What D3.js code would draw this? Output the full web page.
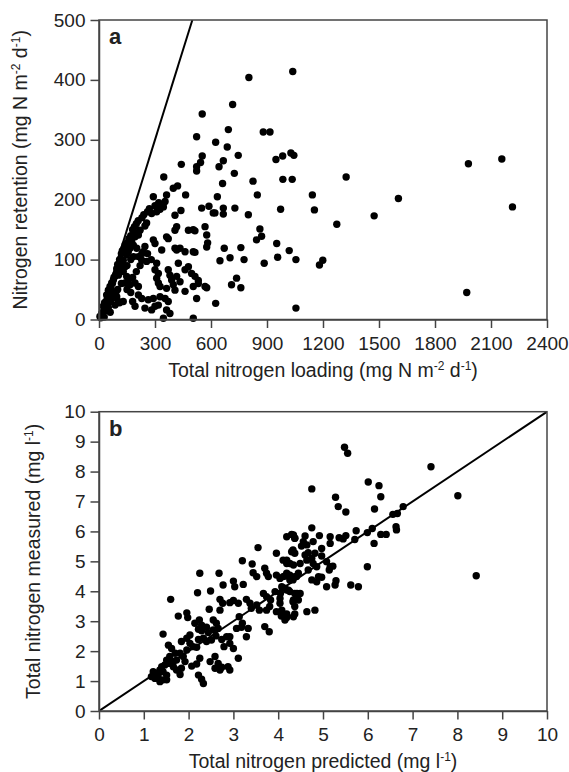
<!DOCTYPE html>
<html>
<head>
<meta charset="utf-8">
<script src="https://cdn.jsdelivr.net/npm/d3@7"></script>
<style>
  body { margin: 0; background: #fff; }
  svg text { font-family: "Liberation Sans", Arial, sans-serif; fill: #222; }
</style>
</head>
<body>
<div id="chart"></div>
<script>
var canvasWidth = 569;
var canvasHeight = 772;

/*Tick labels*/
var loadingTicks = [0, 300, 600, 900, 1200, 1500, 1800, 2100, 2400];
var retentionTicks = [0, 100, 200, 300, 400, 500];
var tnTicks = [0, 1, 2, 3, 4, 5, 6, 7, 8, 9, 10];

/*Panel a: [total N loading, N retention]*/
var retention = [
  [1038,414],[803,404],[716,359],[553,343],[693,317],[880,313],[916,313],[523,305],[625,296],[687,288],
  [553,273],[544,262],[523,255],[523,248],[746,274],[666,265],[643,255],[725,244],[948,267],[984,273],
  [1028,278],[1044,274],[662,227],[825,231],[634,205],[848,208],[985,234],[1035,234],[550,186],[589,189],
  [612,178],[621,178],[666,186],[666,176],[728,186],[800,175],[973,184],[514,148],[568,155],[577,141],
  [582,128],[577,121],[862,151],[844,133],[871,139],[671,119],[648,98],[702,103],[760,120],[777,100],
  [952,127],[957,104],[885,94],[1019,115],[1055,100],[514,112],[514,72],[532,65],[532,60],[577,53],
  [523,35],[625,27],[710,58],[737,69],[760,53],[1055,19],[1143,208],[1324,238],[1154,183],[1604,202],
  [2215,188],[1979,260],[2158,268],[1474,173],[1274,159],[1181,91],[1199,99],[1970,45],[441,259],[347,238],
  [421,223],[398,219],[362,208],[464,208],[291,205],[354,197],[345,188],[327,184],[309,180],[282,177],
  [407,174],[439,182],[255,161],[246,156],[220,149],[202,144],[193,138],[211,141],[416,155],[407,149],
  [479,149],[505,150],[362,138],[371,135],[175,130],[184,124],[166,119],[157,113],[148,108],[202,119],
  [246,122],[237,113],[291,133],[300,127],[407,119],[416,116],[434,119],[461,113],[505,113],[336,116],
  [211,105],[229,99],[255,97],[130,99],[121,91],[139,88],[112,83],[130,80],[104,74],[86,72],
  [77,66],[68,61],[59,55],[50,49],[41,41],[148,72],[157,66],[139,61],[166,58],[193,61],
  [211,55],[309,94],[300,83],[318,77],[309,69],[318,61],[327,55],[371,83],[380,74],[389,66],
  [398,58],[362,52],[425,94],[461,83],[416,72],[434,63],[479,88],[496,77],[505,55],[407,49],
  [461,47],[211,41],[229,35],[264,33],[291,35],[327,38],[95,38],[104,30],[86,24],[193,22],
  [246,19],[282,16],[300,22],[318,24],[354,35],[371,30],[362,16],[380,10],[23,22],[32,16],
  [14,10],[5,5],[28,4],[10,3],[345,2],[505,2],[568,55],
  [30,28],[38,30],[45,35],[55,42],[65,50],[72,60],[80,70],[90,75],[95,85],[100,92],
  [110,100],[115,95],[120,110],[125,115],[135,120],[140,125],[150,128],[160,135],[170,140],[180,150],
  [190,155],[200,160],[210,165],[230,170],[240,175],[260,180],[270,185],[300,190],[320,195],[120,60],
  [100,50],[90,45],[80,40],[70,35],[150,50],[170,45],[180,70],[200,80],[220,90],[150,90],
  [170,100],[185,105],[230,110],[260,110],[280,100],[60,30],[50,20],[40,15],[20,12],[130,30],
  [110,28],[180,30],[60,12]
];

/*Panel b: [TN predicted, TN measured]*/
var tnFit = [
  [1.60,3.73],[1.43,2.57],[2.25,4.60],[2.68,4.60],[2.49,4.01],[2.20,3.95],[1.77,3.17],[1.98,3.12],[1.96,3.28],[2.77,4.21],
  [2.46,3.40],[3.00,4.34],[3.03,4.15],[3.22,4.23],[3.20,5.02],[3.42,4.91],[3.55,5.46],[3.96,5.27],[4.19,5.82],[4.30,5.90],
  [4.37,5.77],[4.33,5.38],[4.11,5.04],[4.19,4.93],[3.44,4.62],[3.52,4.49],[3.70,4.77],[3.74,4.60],[3.78,4.49],[3.96,4.54],
  [4.04,4.43],[4.15,4.51],[4.26,4.54],[4.33,4.38],[4.41,4.49],[2.70,3.73],[2.76,3.60],[2.70,3.37],[2.92,3.62],[3.00,3.69],
  [3.11,3.60],[3.29,3.73],[3.37,3.60],[3.40,3.43],[3.52,3.54],[3.58,3.37],[3.67,3.93],[3.74,3.82],[3.83,3.71],[3.93,3.99],
  [4.05,3.93],[4.19,4.04],[3.74,3.37],[3.81,3.49],[3.96,3.32],[4.07,3.17],[4.19,3.12],[4.37,3.24],[4.42,3.93],[4.45,3.71],
  [4.33,3.65],[3.13,3.15],[3.20,2.93],[3.07,2.76],[3.18,2.80],[3.29,2.48],[3.70,2.82],[3.80,2.65],[3.33,2.76],[3.11,1.76],
  [2.92,2.26],[3.00,2.09],[2.79,2.15],[2.85,2.48],[2.92,2.48],[2.74,2.39],[2.55,3.04],[2.62,2.93],[2.66,2.76],[2.55,2.71],
  [2.40,2.80],[2.29,2.68],[2.22,2.73],[2.14,2.93],[2.24,3.04],[2.29,2.87],[2.33,2.43],[2.40,2.32],[2.51,2.37],[2.44,2.62],
  [2.61,2.51],[2.03,2.26],[2.10,2.15],[1.96,2.04],[2.18,2.13],[1.81,1.93],[1.88,1.82],[1.73,1.70],[1.92,1.65],[1.84,1.43],
  [2.07,1.50],[2.18,1.57],[2.25,1.76],[2.48,1.65],[2.59,1.82],[2.66,1.59],[2.74,1.46],[2.88,1.48],[2.92,1.37],[2.70,1.37],
  [2.59,1.43],[2.22,1.20],[2.29,1.06],[2.33,0.92],[1.81,1.22],[1.55,2.20],[1.62,2.09],[1.70,1.93],[1.58,1.82],[1.51,1.70],
  [1.40,1.48],[1.47,1.54],[1.58,1.59],[1.66,1.65],[1.21,1.31],[1.29,1.26],[1.36,1.37],[1.43,1.31],[1.51,1.20],[1.17,1.15],
  [1.25,1.09],[1.32,1.17],[1.43,1.04],[1.36,0.98],[1.51,1.04],[1.66,1.48],[1.73,1.37],[2.22,2.39],[2.03,2.54],[1.96,2.43],
  [1.84,2.32],
  [5.48,8.81],[5.55,8.61],[7.41,8.16],[4.75,7.42],[6.01,7.65],[6.25,7.53],[6.29,7.16],[8.01,7.19],[5.28,7.14],[5.34,6.83],
  [5.51,6.65],[6.15,6.75],[6.79,6.83],[6.66,6.60],[6.56,6.57],[6.63,6.16],[6.64,6.05],[6.10,6.10],[5.99,5.96],[6.29,5.90],
  [6.41,5.90],[5.74,6.02],[5.71,5.73],[6.14,5.60],[5.99,4.82],[8.42,4.52],[5.62,4.21],[5.79,4.15],[4.75,6.12],[4.34,5.88],
  [4.60,5.85],[4.37,5.77],[4.92,5.86],[5.16,5.82],[5.36,5.79],[5.51,5.86],[5.45,5.75],[5.16,5.60],[4.56,5.66],[4.78,5.66],
  [4.52,5.51],[4.64,5.55],[4.97,5.43],[4.97,5.18],[4.82,5.27],[4.67,5.29],[4.60,5.21],[4.30,5.32],[4.37,5.27],[4.19,5.04],
  [4.26,4.93],[4.34,4.88],[4.49,4.93],[4.64,5.04],[4.75,5.10],[4.78,4.93],[4.86,4.82],[4.67,4.71],[5.08,4.99],[5.16,4.82],
  [5.22,4.84],[5.14,4.71],[4.11,4.49],[4.19,4.60],[4.26,4.38],[4.37,4.49],[4.45,4.60],[4.75,4.38],[4.86,4.32],[4.90,4.49],
  [4.97,4.47],[5.08,4.15],[5.27,4.21],[5.29,4.35],[4.08,4.15],[4.15,4.10],[4.23,4.04],[4.26,3.99],[4.37,3.93],[4.49,3.93],
  [4.04,3.76],[4.04,3.60],[4.08,3.37],[4.19,3.24],[4.15,3.04],[4.34,3.15],[4.37,3.49],[4.34,3.71],[4.64,3.32],[4.82,3.37]
];

var svg = d3.select("#chart").append("svg")
    .attr("width", canvasWidth)
    .attr("height", canvasHeight);

/*Draws one framed scatter panel*/
function drawPanel(opt) {
    var x = d3.scaleLinear().domain(opt.xDomain).range([opt.left, opt.right]);
    var y = d3.scaleLinear().domain(opt.yDomain).range([opt.bottom, opt.top]);
    var g = svg.append("g");

    /*1:1 line, clipped to the plot*/
    var clipId = "clip-" + opt.name;
    g.append("clipPath").attr("id", clipId)
        .append("rect")
        .attr("x", opt.left).attr("y", opt.top)
        .attr("width", opt.right - opt.left).attr("height", opt.bottom - opt.top);

    g.append("line")
        .attr("clip-path", "url(#" + clipId + ")")
        .attr("x1", x(0)).attr("y1", y(0))
        .attr("x2", x(opt.lineEnd)).attr("y2", y(opt.lineEnd))
        .attr("stroke", "#000")
        .attr("stroke-width", 2);

    g.selectAll("circle")
        .data(opt.data)
        .join("circle")
        .attr("cx", function(d) { return x(d[0]); })
        .attr("cy", function(d) { return y(d[1]); })
        .attr("r", 3.7)
        .attr("fill", "#000");

    /*Frame*/
    g.append("rect")
        .attr("x", opt.left).attr("y", opt.top)
        .attr("width", opt.right - opt.left).attr("height", opt.bottom - opt.top)
        .attr("fill", "none")
        .attr("stroke", "#444")
        .attr("stroke-width", 1.5);

    var fmt = d3.format("d");
    var xAxis = g.append("g")
        .attr("transform", "translate(0," + opt.bottom + ")")
        .call(d3.axisBottom(x).tickValues(opt.xTicks).tickFormat(fmt).tickSize(8.5).tickPadding(8.5).tickSizeOuter(0));
    var yAxis = g.append("g")
        .attr("transform", "translate(" + opt.left + ",0)")
        .call(d3.axisLeft(y).tickValues(opt.yTicks).tickFormat(fmt).tickSize(8.5).tickPadding(5).tickSizeOuter(0));

    [xAxis, yAxis].forEach(function(a) {
        a.select(".domain").attr("stroke", "#444").attr("stroke-width", 1.5);
        a.selectAll(".tick line").attr("stroke", "#444").attr("stroke-width", 1.5);
        a.selectAll(".tick text")
            .attr("fill", "#222")
            .style("font-size", "19px")
            .style("font-family", "'Liberation Sans', Arial, sans-serif");
    });

    /*Panel letter*/
    g.append("text")
        .attr("x", opt.left + 10)
        .attr("y", opt.top + 24)
        .style("font-size", "22px")
        .style("font-weight", "bold")
        .text(opt.name);

    /*Axis titles with superscripts*/
    function addTitle(parent, parts) {
        parts.forEach(function(p) {
            var t = parent.append("tspan").text(p[0]);
            if (p[1]) t.attr("baseline-shift", "super").style("font-size", "12px");
        });
    }

    var xt = g.append("text")
        .attr("x", (opt.left + opt.right) / 2)
        .attr("y", opt.xTitleY)
        .attr("text-anchor", "middle")
        .style("font-size", "19.5px");
    addTitle(xt, opt.xTitle);

    var yt = g.append("text")
        .attr("transform", "translate(" + opt.yTitleX + "," + (opt.top + opt.bottom) / 2 + ") rotate(-90)")
        .attr("text-anchor", "middle")
        .style("font-size", "19.5px");
    addTitle(yt, opt.yTitle);
}

drawPanel({
    name: "a",
    data: retention,
    xDomain: [0, 2400], yDomain: [0, 500],
    xTicks: loadingTicks, yTicks: retentionTicks,
    left: 99, right: 547, top: 20, bottom: 319.5,
    lineEnd: 500,
    xTitleY: 377, yTitleX: 27,
    xTitle: [["Total nitrogen loading (mg N m"], ["-2", true], [" d"], ["-1", true], [")"]],
    yTitle: [["Nitrogen retention (mg N m"], ["-2", true], [" d"], ["-1", true], [")"]]
});

drawPanel({
    name: "b",
    data: tnFit,
    xDomain: [0, 10], yDomain: [0, 10],
    xTicks: tnTicks, yTicks: tnTicks,
    left: 99, right: 547, top: 411.7, bottom: 711,
    lineEnd: 10,
    xTitleY: 768, yTitleX: 40,
    xTitle: [["Total nitrogen predicted (mg l"], ["-1", true], [")"]],
    yTitle: [["Total nitrogen measured (mg l"], ["-1", true], [")"]]
});
</script>
</body>
</html>
